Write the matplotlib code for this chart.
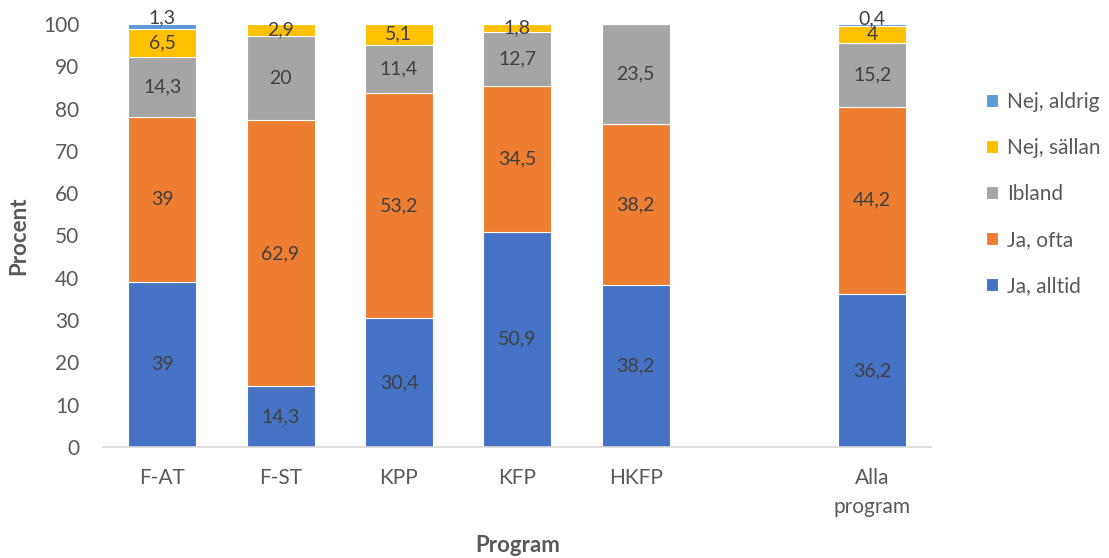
import matplotlib
matplotlib.use("Agg")
import matplotlib.pyplot as plt
import numpy as np

categories = ["F-AT", "F-ST", "KPP", "KFP", "HKFP", "", "Alla\nprogram"]
series_names = ["Ja, alltid", "Ja, ofta", "Ibland", "Nej, sällan", "Nej, aldrig"]
ja_alltid = [39, 14.3, 30.4, 50.9, 38.2, 0, 36.2]
ja_ofta = [39, 62.9, 53.2, 34.5, 38.2, 0, 44.2]
ibland = [14.3, 20, 11.4, 12.7, 23.5, 0, 15.2]
nej_sallan = [6.5, 2.9, 5.1, 1.8, 0, 0, 4]
nej_aldrig = [1.3, 0, 0, 0, 0, 0, 0.4]
yticks = list(range(0, 101, 10))

colors = ["#4472C4", "#ED7D31", "#A5A5A5", "#FFC000", "#5B9BD5"]
series = [ja_alltid, ja_ofta, ibland, nej_sallan, nej_aldrig]

plt.rcParams["font.family"] = ["Lato", "DejaVu Sans"]

fig = plt.figure(figsize=(11.09, 5.58), dpi=100)
ax = fig.add_axes([0.0929, 0.199, 0.747, 0.758])

x = np.arange(len(categories))
bottom = np.zeros(len(categories))
handles = []
for name, vals, col in zip(series_names, series, colors):
    vals = np.array(vals, dtype=float)
    bars = ax.bar(x, vals, width=0.575, bottom=bottom, color=col,
                  edgecolor="white", linewidth=0.8, label=name)
    handles.append(bars)
    for xi, v, b in zip(x, vals, bottom):
        if v <= 0:
            continue
        txt = f"{v:g}".replace(".", ",")
        yc = b + v / 2
        if v < 1.5:
            yc = b + v + 1.3
        ax.text(xi, yc, txt, ha="center", va="center", fontsize=14,
                color="#404040")
    bottom += vals

ax.set_xlim(-0.5, len(categories) - 0.5)
ax.set_ylim(0, 100)
ax.set_yticks(yticks)
ax.set_xticks(x)
ax.set_xticklabels(categories, linespacing=1.6)
ax.tick_params(axis="both", length=0, labelsize=15, colors="#595959")
ax.tick_params(axis="x", pad=15)
ax.tick_params(axis="y", pad=17)
for s in ["top", "right", "left"]:
    ax.spines[s].set_visible(False)
ax.spines["bottom"].set_color("#D9D9D9")
ax.spines["bottom"].set_linewidth(1.2)

ax.set_ylabel("Procent", fontsize=16, fontweight="bold", color="#595959",
              labelpad=10)
fig.text(0.4667, 0.023, "Program", ha="center", va="center", fontsize=16,
         fontweight="bold", color="#595959")

leg = ax.legend(handles[::-1], series_names[::-1], loc="center left",
                bbox_to_anchor=(1.043, 0.598), frameon=False, fontsize=15,
                labelspacing=1.25, handlelength=0.6, handleheight=0.6,
                handletextpad=0.4)
for t in leg.get_texts():
    t.set_color("#595959")

fig.savefig("out.png", dpi=100)
